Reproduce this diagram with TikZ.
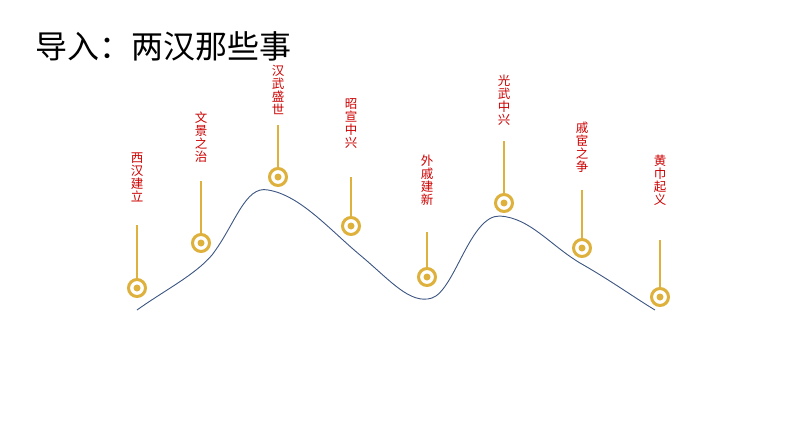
\documentclass[tikz,border=0pt]{standalone}
\usepackage{fontspec}
\newfontfamily\cjk{Noto Sans CJK SC}
\begin{document}
\begin{tikzpicture}[x=1pt,y=-1pt,
  lbl/.style={text=red!80!black,font=\cjk\fontsize{12.5}{13}\selectfont,align=center,inner sep=0pt,anchor=north},
  stick/.style={draw=gold,line width=2pt},
  ring/.style={circle,draw=gold,line width=3pt,fill=white,minimum size=17pt,inner sep=0pt}]
\definecolor{gold}{RGB}{222,176,60}
\definecolor{curve}{RGB}{60,85,130}
\useasboundingbox (0,0) rectangle (794,447);
\node[anchor=west,font=\cjk\fontsize{32}{33}\selectfont,inner sep=0pt] (title) at (35,46) {导入：两汉那些事};
\draw[curve,line width=0.9pt] (137,310) .. controls (165,290) and (195,275) .. (212,255)
  .. controls (235,225) and (245,185) .. (268,190)
  .. controls (300,195) and (330,230) .. (360,255)
  .. controls (390,280) and (410,305) .. (432,298)
  .. controls (455,290) and (470,215) .. (500,216)
  .. controls (530,218) and (550,245) .. (580,263)
  .. controls (610,280) and (635,298) .. (655,310);
\foreach \n/\x/\y/\s/\t/\txt in {a/137/288/225/153/西\\汉\\建\\立, b/201/243/181/112/文\\景\\之\\治, c/278/177/125/65/汉\\武\\盛\\世, d/351/226/177/98/昭\\宣\\中\\兴, e/427/277/232/155/外\\戚\\建\\新, f/504/203/141/75/光\\武\\中\\兴, g/582/248/190/122/戚\\宦\\之\\争, h/660/297/240/155/黄\\巾\\起\\义}{
  \coordinate (s\n) at (\x,\s);
  \node[ring] (m\n) at (\x,\y) {};
  \draw[stick] (s\n) -- (m\n.north);
  \fill[gold] (m\n) circle (3.5pt);
  \node[lbl] (l\n) at (\x,\t) {\txt};
}
\end{tikzpicture}
\end{document}
